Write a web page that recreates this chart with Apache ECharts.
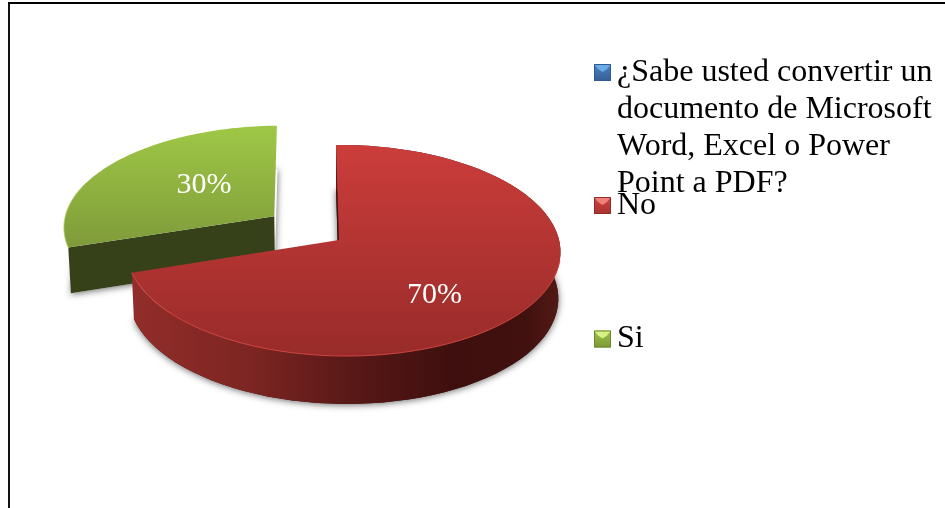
<!DOCTYPE html>
<html>
<head>
<meta charset="utf-8">
<style>html,body{margin:0;padding:0;background:#fff}#c{width:945px;height:508px}</style>
<script src="https://cdn.jsdelivr.net/npm/echarts@6/dist/echarts.min.js"></script>
</head>
<body>
<div id="c"></div>
<script>
var categories = ['No', 'Si'];
var values = [70, 30];
var legendNames = ['\u00bfSabe usted convertir un\ndocumento de Microsoft\nWord, Excel o Power\nPoint a PDF?', 'No', 'Si'];

var FONT = '"Liberation Serif","Times New Roman",serif';
var CX = 339, CY = 240, R = 216, Q = 104.5, K = 0.0995, M = 0.0187, SHEAR = 3;
var total = values.reduce(function (a, b) { return a + b; }, 0);

function project(u, v) {
  var w = 1 + K * v - M * u;
  return { x: CX + R * u / w - SHEAR * v, y: CY - Q * v / w, w: w };
}
function lower(p) {
  return [CX + (p.x - CX) * 0.99, p.y + 46 * (1 + (1 - p.w) * 0.4)];
}
var sliceStyle = [
  { du: 0, dv: 0, ru: 1, z: 10, lx: 4, ly: 23, band: true, lowFrom: 0, lowFill: '#3d1210',
    top: [[0, '#cb3d3b'], [1, '#982b29']],
    rim: 'rgba(214,74,70,0.9)',
    wall: [[0, '#922d2a'], [0.28, '#7c2522'], [0.5, '#5a1917'], [0.75, '#3e0f0e'], [0.92, '#41110f'], [1, '#541a16']],
    cut: '#3d1210' },
  { du: -0.305, dv: 0.235, ru: 1.02, z: 0, lx: 12, ly: -3, band: false, lowFrom: 22, lowFill: '#fff',
    top: [[0, '#9fc846'], [1, '#7f9b3a']],
    rim: 'rgba(170,205,85,0.8)',
    wall: [[0, '#36421a'], [1, '#353f18']],
    cut: '#36411a' }
];

function sweep(a0, a1, s) {
  var pts = [], n = 80;
  for (var i = 0; i <= n; i++) {
    var a = a0 + (a1 - a0) * i / n;
    pts.push(project(s.du + s.ru * Math.sin(a), s.dv + Math.cos(a)));
  }
  return pts;
}
function xy(p) { return [p.x, p.y]; }

function renderSlice(params, api) {
  var idx = params.dataIndex, s = sliceStyle[idx];
  var before = 0;
  for (var i = 0; i < idx; i++) before += values[i];
  var a0 = before / total * Math.PI * 2;
  var a1 = (before + api.value(0)) / total * Math.PI * 2;
  var rim = sweep(a0, a1, s);
  var apex = project(s.du, s.dv);

  var topPts = [xy(apex)].concat(rim.map(xy));
  var lowPts = [lower(apex), lower(rim[0])].concat(rim.slice(s.lowFrom).map(lower));
  var band = rim.map(xy).concat(rim.map(lower).reverse());
  var first = rim[0];

  var minX = Math.min.apply(null, topPts.map(function (p) { return p[0]; }));
  var maxX = Math.max.apply(null, topPts.map(function (p) { return p[0]; }));
  var minY = Math.min.apply(null, topPts.map(function (p) { return p[1]; }));
  var maxY = Math.max.apply(null, topPts.map(function (p) { return p[1]; }));
  function stops(a) { return a.map(function (c) { return { offset: c[0], color: c[1] }; }); }

  var mid = (a0 + a1) / 2;
  var lp = project(s.du + 0.5 * s.ru * Math.sin(mid), s.dv + 0.5 * Math.cos(mid));

  var visibleRim = idx === 0
    ? rim.filter(function (p) { return p.y > CY + 15; }).map(xy)
    : rim.slice(0, 30).map(xy);

  var children = [
    { type: 'polygon', z2: s.z, shape: { points: lowPts },
      style: { fill: s.lowFill, shadowBlur: 7, shadowColor: 'rgba(0,0,0,0.6)', shadowOffsetY: 1 } },
    { type: 'polygon', z2: s.z + 1, shape: { points: [xy(apex), xy(first), lower(first), lower(apex)] },
      style: { fill: s.cut } }
  ];
  if (s.band) {
    children.push({ type: 'polygon', z2: s.z + 2, shape: { points: band },
      style: { fill: { type: 'linear', x: minX, y: 0, x2: maxX, y2: 0, global: true, colorStops: stops(s.wall) } } });
  }
  children.push(
    { type: 'polygon', z2: s.z + 3, shape: { points: topPts },
      style: { fill: { type: 'linear', x: 0, y: minY, x2: 0, y2: maxY, global: true, colorStops: stops(s.top) } } },
    { type: 'polyline', z2: s.z + 4, shape: { points: visibleRim },
      style: { fill: null, stroke: s.rim, lineWidth: 1 } },
    { type: 'text', z2: s.z + 5, x: lp.x + s.lx, y: lp.y + s.ly,
      style: { text: Math.round(api.value(0) / total * 100) + '%', fill: '#fff',
               font: '30px ' + FONT, align: 'center', verticalAlign: 'middle' } }
  );
  return { type: 'group', children: children };
}

var iconColors = [
  ['#4a82c0', '#345f95', '#6aaae6', '#2f5a90'],
  ['#d0433f', '#a83331', '#f0807b', '#8f2c2a'],
  ['#a0c04a', '#7c9a35', '#d8f084', '#6c8830']
];
var legendTop = [64, 197, 330.5];
var legendEls = [];
legendNames.forEach(function (name, i) {
  var c = iconColors[i], x = 594, y = legendTop[i], s = 17;
  legendEls.push({ type: 'rect', shape: { x: x, y: y, width: s, height: s },
    style: { fill: { type: 'linear', x: 0, y: 0, x2: 0, y2: 1, colorStops: [{ offset: 0, color: c[0] }, { offset: 1, color: c[1] }] } } });
  legendEls.push({ type: 'polygon', shape: { points: [[x, y], [x + s, y], [x + s - 4, y + 5], [x + s / 2, y + 8], [x + 4, y + 5]] },
    style: { fill: c[2] } });
  legendEls.push({ type: 'rect', shape: { x: x + 0.5, y: y + 0.5, width: s - 1, height: s - 1 },
    style: { fill: null, stroke: c[3], lineWidth: 1 } });
  legendEls.push({ type: 'text', x: 617, y: y - 10.5, style: { text: name, fill: '#000', font: '32px ' + FONT, lineHeight: 37.3, align: 'left', verticalAlign: 'top' }, z: 5 });
});
var frameEls = [
  { type: 'line', shape: { x1: 9, y1: 3, x2: 9, y2: 508 }, style: { stroke: '#111', lineWidth: 2 } },
  { type: 'line', shape: { x1: 8, y1: 3, x2: 945, y2: 3 }, style: { stroke: '#000', lineWidth: 2 } }
];

var chart = echarts.init(document.getElementById('c'), null, { renderer: 'canvas' });
chart.setOption({
  animation: false,
  backgroundColor: '#fff',
  graphic: { elements: frameEls.concat(legendEls) },
  series: [{
    type: 'custom',
    coordinateSystem: 'none',
    silent: true,
    renderItem: renderSlice,
    data: values.map(function (v, i) { return { name: categories[i], value: [v] }; })
  }]
});
</script>
</body>
</html>
